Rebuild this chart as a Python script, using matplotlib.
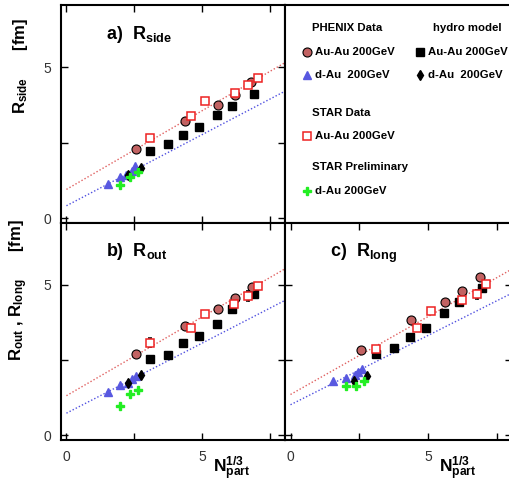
import matplotlib
matplotlib.use('Agg')
import matplotlib.pyplot as plt
import numpy as np

# --- data ---
# panel a) R_side
side_phenix_x = [2.55, 4.36, 5.58, 6.20, 6.81]
side_phenix_y = [2.29, 3.21, 3.74, 4.07, 4.51]
side_star_x = [3.08, 4.57, 5.09, 6.20, 6.69, 7.06]
side_star_y = [2.67, 3.38, 3.88, 4.14, 4.40, 4.63]
side_star_err = [0.05, 0.05, 0.05, 0.05, 0.06, 0.06]
side_hydro_x = [3.06, 3.73, 4.30, 4.90, 5.54, 6.08, 6.91]
side_hydro_y = [2.24, 2.45, 2.75, 3.01, 3.41, 3.71, 4.10]
side_dau_x = [1.54, 1.96, 2.20, 2.41, 2.54]
side_dau_y = [1.15, 1.36, 1.44, 1.56, 1.74]
side_hdau_x = [2.28, 2.76]
side_hdau_y = [1.45, 1.67]
side_prel_x = [1.99, 2.34, 2.62]
side_prel_y = [1.12, 1.37, 1.54]
side_fit = [(0.96, 0.520), (0.42, 0.470)]

# panel b) R_out
out_phenix_x = [2.55, 4.36, 5.58, 6.20, 6.83]
out_phenix_y = [2.71, 3.63, 4.20, 4.55, 4.91]
out_star_x = [3.09, 4.57, 5.09, 6.19, 6.70, 7.06]
out_star_y = [3.07, 3.56, 4.02, 4.37, 4.63, 4.97]
out_star_err = [0.15, 0.10, 0.06, 0.10, 0.16, 0.08]
out_hydro_x = [3.06, 3.73, 4.29, 4.90, 5.54, 6.09, 6.92]
out_hydro_y = [2.53, 2.68, 3.07, 3.30, 3.71, 4.18, 4.69]
out_dau_x = [1.54, 1.99, 2.25, 2.43, 2.55]
out_dau_y = [1.44, 1.67, 1.74, 1.86, 1.97]
out_hdau_x = [2.28, 2.76]
out_hdau_y = [1.74, 2.00]
out_prel_x = [1.99, 2.35, 2.65]
out_prel_y = [0.98, 1.37, 1.52]
out_fit = [(1.32, 0.523), (0.74, 0.465)]

# panel c) R_long
long_phenix_x = [2.57, 4.39, 5.61, 6.23, 6.87]
long_phenix_y = [2.84, 3.84, 4.44, 4.81, 5.26]
long_star_x = [3.11, 4.61, 5.12, 6.23, 6.77, 7.10]
long_star_y = [2.87, 3.56, 4.13, 4.48, 4.69, 5.02]
long_star_err = [0.06, 0.06, 0.06, 0.08, 0.15, 0.08]
long_hydro_x = [3.11, 3.76, 4.34, 4.94, 5.59, 6.12, 6.96]
long_hydro_y = [2.71, 2.89, 3.26, 3.58, 4.06, 4.42, 4.89]
long_dau_x = [1.56, 2.00, 2.33, 2.45, 2.59]
long_dau_y = [1.80, 1.92, 2.00, 2.09, 2.20]
long_hdau_x = [2.32, 2.78]
long_hdau_y = [1.80, 1.97]
long_prel_x = [2.02, 2.39, 2.67]
long_prel_y = [1.63, 1.63, 1.80]
long_fit = [(1.36, 0.517), (1.02, 0.460)]

CIRC = '#c26262'
TRI = '#5858e0'
GRN = '#22ee22'
RED = '#ee2222'

plt.rcParams['font.family'] = ['Liberation Sans', 'DejaVu Sans']
plt.rcParams['mathtext.fontset'] = 'custom'
plt.rcParams['mathtext.rm'] = 'Liberation Sans'
plt.rcParams['mathtext.bf'] = 'Liberation Sans:bold'


def draw_panel(ax, d, title):
    xs = np.array([0, 8.2])
    (a1, b1), (a2, b2) = d['fit']
    ax.plot(xs, a1 + b1 * xs, ls=(0, (1, 1.5)), color='#e06060', lw=1)
    ax.plot(xs, a2 + b2 * xs, ls=(0, (1, 1.5)), color='#5050e0', lw=1)
    ax.plot(d['hx'], d['hy'], 's', color='black', ms=5.5)
    ax.plot(d['px'], d['py'], 'o', mfc=CIRC, mec='black', mew=0.8, ms=6.5)
    ax.errorbar(d['sx'], d['sy'], yerr=d['se'], fmt='s', mfc='white',
                mec=RED, mew=1.1, ms=6, ecolor='black', elinewidth=0.8,
                capsize=1.5)
    ax.plot(d['dx'], d['dy'], '^', color=TRI, ms=6)
    ax.plot(d['hdx'], d['hdy'], 'd', color='black', ms=5.5)
    ax.plot(d['gx'], d['gy'], 'P', color=GRN, ms=5.5, mec=GRN)
    ax.set_xlim(-0.2, 8.05)
    ax.set_ylim(-0.15, 7.05)
    ax.set_xticks([0, 2.5, 5, 7.5])
    ax.set_yticks([0, 2.5, 5])
    ax.tick_params(direction='in', top=True, right=True, length=5,
                   width=1, labelsize=10, labelcolor='#333333', pad=7)
    for s in ax.spines.values():
        s.set_linewidth(1.5)
    ax.text(0.2, 0.915, title, transform=ax.transAxes, fontsize=13,
            fontweight='bold', va='top', ha='left')


fig = plt.figure(figsize=(5.1, 4.84), dpi=100)
W, H = 510, 484


def axes_px(x0, y0, x1, y1):
    return fig.add_axes([x0 / W, 1 - y1 / H, (x1 - x0) / W, (y1 - y0) / H])


ax_a = axes_px(61, 5, 285, 223)
ax_leg = axes_px(285, 5, 512, 223)
ax_b = axes_px(61, 223, 285, 440)
ax_c = axes_px(285, 223, 512, 440)

draw_panel(ax_a, dict(px=side_phenix_x, py=side_phenix_y, sx=side_star_x,
                      sy=side_star_y, se=side_star_err, hx=side_hydro_x,
                      hy=side_hydro_y, dx=side_dau_x, dy=side_dau_y,
                      hdx=side_hdau_x, hdy=side_hdau_y, gx=side_prel_x,
                      gy=side_prel_y, fit=side_fit),
           r'a)  R$_{\mathbf{side}}$')
draw_panel(ax_b, dict(px=out_phenix_x, py=out_phenix_y, sx=out_star_x,
                      sy=out_star_y, se=out_star_err, hx=out_hydro_x,
                      hy=out_hydro_y, dx=out_dau_x, dy=out_dau_y,
                      hdx=out_hdau_x, hdy=out_hdau_y, gx=out_prel_x,
                      gy=out_prel_y, fit=out_fit),
           r'b)  R$_{\mathbf{out}}$')
draw_panel(ax_c, dict(px=long_phenix_x, py=long_phenix_y, sx=long_star_x,
                      sy=long_star_y, se=long_star_err, hx=long_hydro_x,
                      hy=long_hydro_y, dx=long_dau_x, dy=long_dau_y,
                      hdx=long_hdau_x, hdy=long_hdau_y, gx=long_prel_x,
                      gy=long_prel_y, fit=long_fit),
           r'c)  R$_{\mathbf{long}}$')

ax_a.set_xticklabels([])
ax_a.set_yticklabels(['0', '', '5'])
ax_b.set_xticklabels(['0', '', '5', ''])
ax_b.set_yticklabels(['0', '', '5'])
ax_c.set_xticklabels(['0', '', '5', ''])
ax_c.set_yticklabels([])

for ax in (ax_b, ax_c):
    ax.set_xlabel(r'$\mathbf{N_{part}^{1/3}}$', fontsize=12.5)
    ax.xaxis.set_label_coords(0.76, -0.07)

ax_a.set_ylabel(r'$\mathbf{R_{side}}$      [fm]', fontsize=12,
                fontweight='bold')
ax_b.set_ylabel(r'$\mathbf{R_{out}}$ , $\mathbf{R_{long}}$      [fm]',
                fontsize=12, fontweight='bold')
ax_a.yaxis.set_label_coords(-0.14, 0.72)
ax_b.yaxis.set_label_coords(-0.14, 0.69)

# legend panel
ax_leg.set_xlim(0, 227)
ax_leg.set_ylim(218, 0)
ax_leg.set_xticks([])
ax_leg.set_yticks([])
for s in ax_leg.spines.values():
    s.set_linewidth(1.5)
fs = 8.2
ax_leg.text(27, 23, 'PHENIX Data', fontsize=fs, fontweight='bold', va='center')
ax_leg.text(148, 23, 'hydro model', fontsize=fs, fontweight='bold', va='center')
ax_leg.plot(22, 47, 'o', mfc=CIRC, mec='black', mew=0.8, ms=6.5)
ax_leg.text(30, 47, 'Au-Au 200GeV', fontsize=fs, fontweight='bold', va='center')
ax_leg.plot(135, 47, 's', color='black', ms=5.5)
ax_leg.text(143, 47, 'Au-Au 200GeV', fontsize=fs, fontweight='bold', va='center')
ax_leg.plot(22, 70, '^', color=TRI, ms=6)
ax_leg.text(30, 70, 'd-Au  200GeV', fontsize=fs, fontweight='bold', va='center')
ax_leg.plot(135, 70, 'd', color='black', ms=5.5)
ax_leg.text(143, 70, 'd-Au  200GeV', fontsize=fs, fontweight='bold', va='center')
ax_leg.text(27, 108, 'STAR Data', fontsize=fs, fontweight='bold', va='center')
ax_leg.plot(22, 131, 's', mfc='white', mec=RED, mew=1.1, ms=6)
ax_leg.text(30, 131, 'Au-Au 200GeV', fontsize=fs, fontweight='bold', va='center')
ax_leg.text(27, 162, 'STAR Preliminary', fontsize=fs, fontweight='bold',
            va='center')
ax_leg.plot(22, 186, 'P', color=GRN, ms=5.5)
ax_leg.text(30, 186, 'd-Au 200GeV', fontsize=fs, fontweight='bold', va='center')

fig.savefig('out.png', dpi=100)
